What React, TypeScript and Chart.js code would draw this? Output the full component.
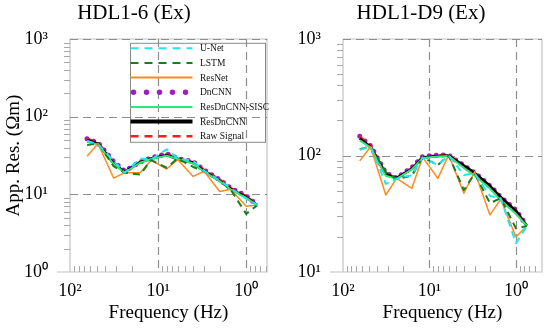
import React, { useEffect, useRef } from 'react';
import { Chart, registerables } from 'chart.js';
Chart.register(...registerables);

const frequencies = [64, 48, 32, 24, 16, 12, 8, 6, 4, 3, 2, 1.5, 1, 0.75];
const seriesNames = ['U-Net', 'LSTM', 'ResNet', 'DnCNN', 'ResDnCNN-SISC', 'ResDnCNN', 'Raw Signal'];
const panelTitles = ['HDL1-6 (Ex)', 'HDL1-D9 (Ex)'];
const xAxisTitle = 'Frequency (Hz)';
const yAxisTitle = 'App. Res. (Ωm)';
const superscripts: Record<string, string> = { '-': '⁻', '0': '⁰', '1': '¹', '2': '²', '3': '³', '4': '⁴' };

// HDL1-6 (Ex)
const a_unet = [49, 44, 27, 19, 29, 28, 38, 29, 27, 20, 15, 12, 8.8, 7.3];
const a_lstm = [43, 45.5, 23, 19, 18, 27.5, 22, 29, 22.5, 20, 15, 11.5, 5.6, 7.2];
const a_resnet = [31, 45, 16.2, 19, 19, 27.5, 21.2, 28, 17, 19.8, 10.9, 11.6, 7, 7.3];
const a_dncnn = [52, 46, 26.5, 20, 26, 29.5, 33.5, 29, 26.5, 20.5, 15.5, 12, 9.6, 7.3];
const a_sisc = [47, 44, 24.5, 19, 25.5, 28.5, 31.5, 28.5, 25, 19.5, 14.8, 11.5, 9, 7.2];
const a_resdncnn = [50, 45, 25, 19.5, 26, 29, 32, 28.5, 25.5, 20, 15, 11.8, 9.2, 7.3];
const a_raw = [52, 46, 26, 19.5, 26, 29, 33, 29, 26, 20.5, 15.5, 12, 9.5, 7.3];

// HDL1-D9 (Ex)
const b_unet = [112, 120, 57, 63, 68, 96, 83, 100, 68, 70, 45, 43, 17.7, 24.8];
const b_lstm = [113, 120, 72, 63, 67, 96, 83, 100, 50.5, 70, 39, 43, 23.7, 24.8];
const b_resnet = [90, 119, 45.8, 63.7, 52.3, 96.5, 63.7, 101, 47.4, 72.6, 30.9, 42, 20, 24.8];
const b_dncnn = [146, 121, 71, 64, 79, 98, 101, 101, 82, 71, 55, 44, 34, 25];
const b_sisc = [135, 117, 67, 63, 76, 95, 98, 99, 78, 67, 52, 41, 31.5, 25];
const b_resdncnn = [140, 119, 69, 64, 77, 96, 99, 100, 82, 71, 55, 44, 33.5, 25];
const b_raw = [145, 121, 70, 64, 78, 97, 100, 101, 81, 70, 54, 43, 33.5, 25];

const styles = [
  { color: '#22e6ee', width: 2, dash: [7, 5], order: 1, legendWidth: 2 },
  { color: '#1b7d1b', width: 2, dash: [7, 5], order: 2, legendWidth: 2 },
  { color: '#ff8a1e', width: 1.5, dash: [] as number[], order: 3, legendWidth: 2 },
  { color: '#a21cc4', width: 5, dash: [0, 7], order: 7, legendWidth: 5.5, round: true },
  { color: '#2ee67a', width: 2, dash: [] as number[], order: 4, legendWidth: 2 },
  { color: '#000000', width: 2.5, dash: [] as number[], order: 5, legendWidth: 4 },
  { color: '#ff1a1a', width: 2.5, dash: [7, 5], order: 6, legendWidth: 2.5 },
];

const FONT = 'Liberation Serif';

const isDecade = (v: number) => {
  const l = Math.log10(v);
  return Math.abs(l - Math.round(l)) < 1e-6;
};
const decadeLabel = (v: number) => {
  if (!isDecade(v)) return '';
  const e = String(Math.round(Math.log10(v)));
  return '10' + e.split('').map((c) => superscripts[c] || c).join('');
};

const framePlugin = {
  id: 'frame',
  beforeDatasetsDraw(chart: any) {
    const { ctx, chartArea: a, scales } = chart;
    const x = scales.x;
    const y = scales.y;
    ctx.save();
    ctx.strokeStyle = '#c4c4c4';
    ctx.lineWidth = 1.2;
    ctx.setLineDash([]);
    ctx.beginPath();
    ctx.moveTo(a.left, a.top);
    ctx.lineTo(a.left, a.bottom);
    ctx.moveTo(a.left - 13, a.bottom);
    ctx.lineTo(a.right, a.bottom);
    ctx.lineTo(a.right, a.top);
    ctx.lineTo(a.left, a.top);
    ctx.stroke();
    // minor ticks
    ctx.strokeStyle = '#a8a8a8';
    ctx.lineWidth = 1;
    ctx.beginPath();
    for (let e = -2; e <= 3; e++) {
      for (let k = 2; k <= 9; k++) {
        const v = k * Math.pow(10, e);
        if (v > x.min && v < x.max) {
          const px = Math.round(x.getPixelForValue(v)) + 0.5;
          ctx.moveTo(px, a.bottom);
          ctx.lineTo(px, a.bottom - 6);
        }
        if (v > y.min && v < y.max) {
          const py = Math.round(y.getPixelForValue(v)) + 0.5;
          ctx.moveTo(a.left, py);
          ctx.lineTo(a.left - 6, py);
        }
      }
    }
    ctx.stroke();
    // dashed decade grid
    ctx.strokeStyle = '#8e8e8e';
    ctx.lineWidth = 1.2;
    ctx.setLineDash([8, 5]);
    ctx.beginPath();
    for (let e = -2; e <= 3; e++) {
      const v = Math.pow(10, e);
      if (v > y.min && v <= y.max) {
        const py = Math.round(y.getPixelForValue(v)) + 0.5;
        ctx.moveTo(a.left, py);
        ctx.lineTo(a.right, py);
      }
      if (v > x.min && v < x.max) {
        const px = Math.round(x.getPixelForValue(v)) + 0.5;
        ctx.moveTo(px, a.top);
        ctx.lineTo(px, a.bottom);
      }
    }
    ctx.stroke();
    ctx.restore();
  },
};

const legendPlugin = {
  id: 'insideLegend',
  afterDatasetsDraw(chart: any, _args: any, opts: any) {
    if (!opts || !opts.show) return;
    const { ctx, chartArea: a } = chart;
    const left = a.left + 60.5;
    const top = a.top + 4.3;
    const right = a.right - 1.5;
    const bottom = top + 99;
    ctx.save();
    ctx.strokeStyle = '#8a8a8a';
    ctx.lineWidth = 1;
    ctx.setLineDash([]);
    ctx.strokeRect(left, top, right - left, bottom - top);
    ctx.font = `9.5px "${FONT}"`;
    ctx.textBaseline = 'middle';
    ctx.textAlign = 'left';
    chart.data.datasets.forEach((ds: any, i: number) => {
      const st = styles[i];
      const ry = top + 5 + i * 14.65;
      ctx.save();
      ctx.strokeStyle = ds.borderColor;
      ctx.lineWidth = st.legendWidth;
      ctx.lineCap = st.round ? 'round' : 'butt';
      ctx.setLineDash(st.round ? [0, 13] : st.dash.length ? [8, 6] : []);
      ctx.beginPath();
      ctx.moveTo(left + (st.round ? 3 : 0), ry);
      ctx.lineTo(left + 62, ry);
      ctx.stroke();
      ctx.restore();
      ctx.fillStyle = '#111';
      ctx.fillText(ds.label, left + 69.5, ry + 0.5);
    });
    ctx.restore();
  },
};

type PanelProps = {
  left: number;
  width: number;
  title: string;
  series: number[][];
  yMin: number;
  xMin: number;
  yAxisWidth: number;
  padRight: number;
  showYTitle: boolean;
  showLegend: boolean;
};

function Panel(p: PanelProps) {
  const ref = useRef<HTMLCanvasElement>(null);
  useEffect(() => {
    const datasets = p.series.map((vals, i) => ({
      label: seriesNames[i],
      data: frequencies.map((f, j) => ({ x: f, y: vals[j] })),
      borderColor: styles[i].color,
      backgroundColor: styles[i].color,
      borderWidth: styles[i].width,
      borderDash: styles[i].dash,
      borderCapStyle: styles[i].round ? 'round' : 'butt',
      borderJoinStyle: 'round',
      pointRadius: 0,
      tension: 0,
      fill: false,
      order: styles[i].order,
    }));
    const chart = new Chart(ref.current!, {
      type: 'line',
      data: { datasets } as any,
      options: {
        animation: false,
        responsive: false,
        devicePixelRatio: 1,
        events: [],
        layout: { padding: { left: 0, right: p.padRight, top: 0, bottom: 0 } },
        plugins: {
          legend: { display: false },
          tooltip: { enabled: false },
          title: {
            display: true,
            text: p.title,
            color: '#000',
            font: { family: FONT, size: 21, weight: 'normal' },
            padding: { top: 1, bottom: 12.8 },
          },
          insideLegend: { show: p.showLegend },
        } as any,
        scales: {
          x: {
            type: 'logarithmic',
            position: 'bottom',
            reverse: true,
            min: p.xMin,
            max: 100,
            grid: { display: false, drawTicks: false },
            border: { display: false },
            afterFit: (s: any) => {
              s.height = 62;
            },
            ticks: {
              autoSkip: false,
              maxRotation: 0,
              padding: 8,
              color: '#000',
              font: { family: FONT, size: 18 },
              callback: (v: any) => decadeLabel(Number(v)),
            },
            title: {
              display: true,
              text: xAxisTitle,
              color: '#000',
              font: { family: FONT, size: 19 },
              padding: { top: 0, bottom: 9.6 },
            },
          },
          y: {
            type: 'logarithmic',
            min: p.yMin,
            max: 1000,
            grid: { display: false, drawTicks: false },
            border: { display: false },
            afterFit: (s: any) => {
              s.width = p.yAxisWidth;
            },
            ticks: {
              autoSkip: false,
              padding: 22,
              color: '#000',
              font: { family: FONT, size: 18 },
              callback: (v: any) => decadeLabel(Number(v)),
            },
            title: {
              display: p.showYTitle,
              text: yAxisTitle,
              color: '#000',
              font: { family: FONT, size: 19 },
              padding: { top: 2.5, bottom: 0 },
            },
          },
        } as any,
      },
      plugins: [framePlugin, legendPlugin],
    });
    return () => chart.destroy();
  }, []);
  return (
    <canvas
      ref={ref}
      width={p.width}
      height={334}
      style={{ position: 'absolute', left: p.left, top: 0, width: p.width, height: 334 }}
    />
  );
}

export default function App() {
  return (
    <div style={{ position: 'fixed', left: 0, top: 0, width: 550, height: 334, background: '#fff', overflow: 'hidden' }}>
      <Panel
        left={0}
        width={275}
        title={panelTitles[0]}
        series={[a_unet, a_lstm, a_resnet, a_dncnn, a_sisc, a_resdncnn, a_raw]}
        yMin={1}
        xMin={0.58}
        yAxisWidth={70}
        padRight={7}
        showYTitle={true}
        showLegend={true}
      />
      <Panel
        left={298}
        width={252}
        title={panelTitles[1]}
        series={[b_unet, b_lstm, b_resnet, b_dncnn, b_sisc, b_resdncnn, b_raw]}
        yMin={10}
        xMin={0.5}
        yAxisWidth={45}
        padRight={6}
        showYTitle={false}
        showLegend={false}
      />
    </div>
  );
}
